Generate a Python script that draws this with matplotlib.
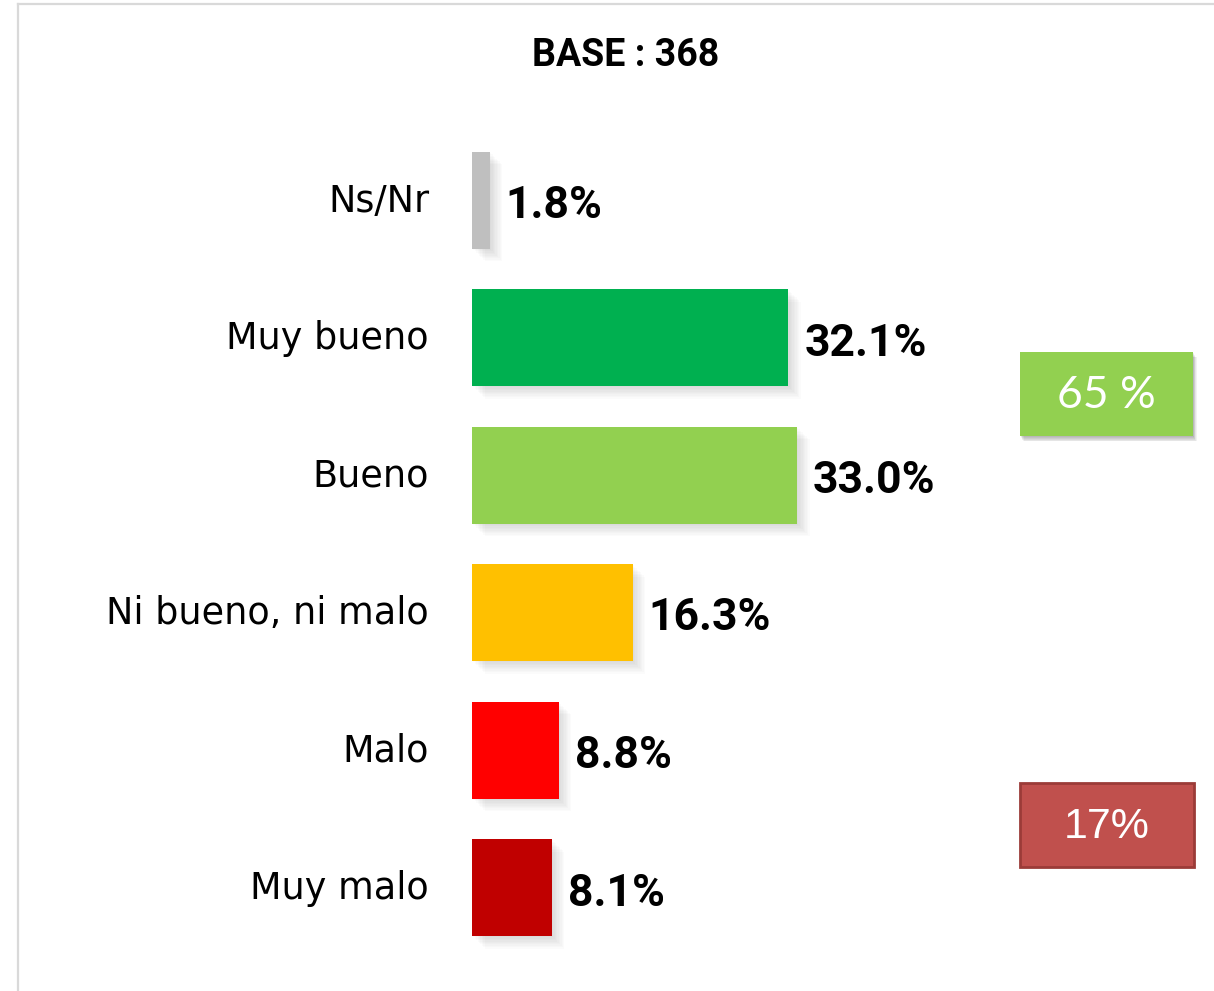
import matplotlib
matplotlib.use("Agg")
import matplotlib.pyplot as plt
from matplotlib.patches import Rectangle
from matplotlib.lines import Line2D

# ---- data ----
categories = ["Ns/Nr", "Muy bueno", "Bueno", "Ni bueno, ni malo", "Malo", "Muy malo"]
values = [1.8, 32.1, 33.0, 16.3, 8.8, 8.1]
colors = ["#BFBFBF", "#00B050", "#92D050", "#FFC000", "#FF0000", "#C00000"]
title = "BASE : 368"
top_box_text = "65 %"
bottom_box_text = "17%"

W, H = 1214, 991
fig = plt.figure(figsize=(W / 100, H / 100), dpi=100)
fig.patch.set_facecolor("white")

# frame lines (light gray)
fig.add_artist(Line2D([18 / W, 18 / W], [0, 1 - 4 / H], transform=fig.transFigure,
                      color="#D9D9D9", lw=1.6))
fig.add_artist(Line2D([18 / W, 1], [1 - 4 / H, 1 - 4 / H], transform=fig.transFigure,
                      color="#D9D9D9", lw=1.6))

# axes: x=0 at 472px, 9.85 px per %
px_per_pct = 9.85
ax_left = 472
ax_w = W - ax_left
slot = 137.5
ax_top = 200 - slot / 2
ax_h = slot * len(categories)
ax = fig.add_axes([ax_left / W, 1 - (ax_top + ax_h) / H, ax_w / W, ax_h / H])
ax.set_xlim(0, ax_w / px_per_pct)
ax.set_ylim(len(categories) - 0.5, -0.5)
ax.axis("off")

bar_h = 97 / slot
ypos = list(range(len(categories)))

# soft shadows
dx = 1 / px_per_pct
dy = 1 / slot
for y, v in zip(ypos, values):
    for k in range(1, 10):
        ax.add_patch(Rectangle((k * 1.4 * dx, y - bar_h / 2 + k * 1.4 * dy), v, bar_h,
                               facecolor="black", alpha=0.016, lw=0, zorder=1))

ax.barh(ypos, values, height=bar_h, color=colors, zorder=3)

for y, v, c in zip(ypos, values, categories):
    ax.text(v + 16 * dx, y + 6 * dy, f"{v:.1f}%", ha="left", va="center",
            fontsize=32, fontweight="bold", family="Roboto", color="black", zorder=4)
    ax.text(-43 * dx, y + 1 * dy, c, ha="right", va="center",
            fontsize=26.3, family="DejaVu Sans", color="black", clip_on=False)

# title
fig.text(626 / W, 1 - 56 / H, title, ha="center", va="center", fontsize=27,
         fontweight="bold", family="Roboto", color="black")

# summary boxes
def box(x0, y0, x1, y1, face, edge, text, fontfamily, fs, shadow):
    if shadow:
        for k in range(1, 7):
            fig.add_artist(Rectangle(((x0 + k * 0.6) / W, 1 - (y1 + k * 0.9) / H),
                                     (x1 - x0) / W, (y1 - y0) / H, transform=fig.transFigure,
                                     facecolor="black", alpha=0.05, lw=0))
    fig.add_artist(Rectangle((x0 / W, 1 - y1 / H), (x1 - x0) / W, (y1 - y0) / H,
                             transform=fig.transFigure, facecolor=face,
                             edgecolor=edge, lw=2 if edge != "none" else 0))
    fig.text((x0 + x1) / 2 / W, 1 - ((y0 + y1) / 2 + 2) / H, text, ha="center", va="center",
             fontsize=fs, color="white", family=fontfamily)

box(1020, 352, 1193, 436, "#92D050", "none", top_box_text, "Lato", 32, True)
box(1020, 783, 1194, 867, "#C0504D", "#9B3B38", bottom_box_text, "Liberation Sans", 31, False)

fig.savefig("out.png", dpi=100, facecolor="white")
